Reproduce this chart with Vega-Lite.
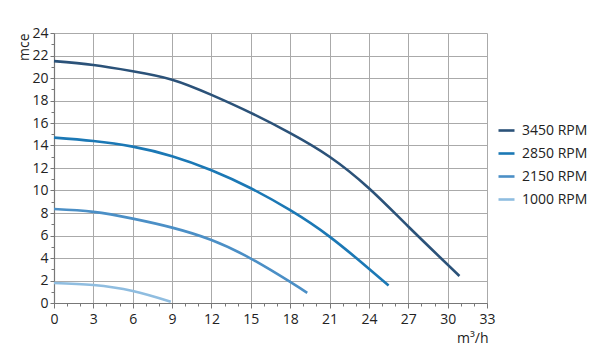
{
  "$schema": "https://vega.github.io/schema/vega-lite/v6.json",
  "width": 433,
  "height": 270,
  "autosize": "none",
  "padding": {"left": 54, "top": 33, "right": 125, "bottom": 57},
  "background": "white",
  "config": {
    "font": "Open Sans",
    "view": {"stroke": null}
  },
  "data": {
    "values": [
      {"q": 0, "h": 21.5, "s": "3450 RPM"},
      {"q": 3, "h": 21.15, "s": "3450 RPM"},
      {"q": 6, "h": 20.6, "s": "3450 RPM"},
      {"q": 9, "h": 19.85, "s": "3450 RPM"},
      {"q": 12, "h": 18.5, "s": "3450 RPM"},
      {"q": 15, "h": 16.9, "s": "3450 RPM"},
      {"q": 18, "h": 15.1, "s": "3450 RPM"},
      {"q": 21, "h": 13.0, "s": "3450 RPM"},
      {"q": 24, "h": 10.2, "s": "3450 RPM"},
      {"q": 27, "h": 6.8, "s": "3450 RPM"},
      {"q": 30.9, "h": 2.4, "s": "3450 RPM"},
      {"q": 0, "h": 14.7, "s": "2850 RPM"},
      {"q": 3, "h": 14.4, "s": "2850 RPM"},
      {"q": 6, "h": 13.9, "s": "2850 RPM"},
      {"q": 9, "h": 13.05, "s": "2850 RPM"},
      {"q": 12, "h": 11.8, "s": "2850 RPM"},
      {"q": 15, "h": 10.2, "s": "2850 RPM"},
      {"q": 18, "h": 8.25, "s": "2850 RPM"},
      {"q": 21, "h": 5.9, "s": "2850 RPM"},
      {"q": 24, "h": 3.05, "s": "2850 RPM"},
      {"q": 25.5, "h": 1.55, "s": "2850 RPM"},
      {"q": 0, "h": 8.35, "s": "2150 RPM"},
      {"q": 3, "h": 8.1, "s": "2150 RPM"},
      {"q": 6, "h": 7.5, "s": "2150 RPM"},
      {"q": 9, "h": 6.7, "s": "2150 RPM"},
      {"q": 12, "h": 5.6, "s": "2150 RPM"},
      {"q": 15, "h": 3.95, "s": "2150 RPM"},
      {"q": 18, "h": 1.87, "s": "2150 RPM"},
      {"q": 19.3, "h": 0.9, "s": "2150 RPM"},
      {"q": 0, "h": 1.78, "s": "1000 RPM"},
      {"q": 3, "h": 1.6, "s": "1000 RPM"},
      {"q": 6, "h": 1.07, "s": "1000 RPM"},
      {"q": 8.9, "h": 0.12, "s": "1000 RPM"}
    ]
  },
  "mark": {"type": "line", "interpolate": "natural", "strokeWidth": 2.6},
  "encoding": {
    "x": {
      "field": "q",
      "type": "quantitative",
      "scale": {"domain": [0, 33], "nice": false, "zero": false},
      "axis": {
        "values": [0,1,2,3,4,5,6,7,8,9,10,11,12,13,14,15,16,17,18,19,20,21,22,23,24,25,26,27,28,29,30,31,32,33],
        "labelExpr": "datum.value % 3 === 0 ? datum.label : ''",
        "labelFontSize": 14,
        "labelColor": "#222",
        "labelPadding": 4,
        "labelFlush": false,
        "domainColor": "#777",
        "domainWidth": 1.2,
        "tickColor": "#777",
        "tickSize": {"condition": {"test": "datum.value % 3 === 0", "value": 5}, "value": 3},
        "grid": true,
        "gridColor": "#aaaaaa",
        "gridWidth": 1,
        "gridOpacity": {"condition": {"test": "datum.value % 3 === 0", "value": 1}, "value": 0},
        "title": "m³/h",
        "titleFontSize": 14,
        "titleFontWeight": "normal",
        "titleColor": "#222",
        "titleAnchor": "end",
        "titleAlign": "right",
        "titleBaseline": "alphabetic",
        "titleX": 434,
        "titleY": 39
      }
    },
    "y": {
      "field": "h",
      "type": "quantitative",
      "scale": {"domain": [0, 24], "nice": false},
      "axis": {
        "values": [0,1,2,3,4,5,6,7,8,9,10,11,12,13,14,15,16,17,18,19,20,21,22,23,24],
        "labelExpr": "datum.value % 2 === 0 ? datum.label : ''",
        "labelFontSize": 14,
        "labelColor": "#222",
        "labelPadding": 2,
        "labelFlush": false,
        "domainColor": "#777",
        "domainWidth": 1.2,
        "tickColor": "#777",
        "tickSize": {"condition": {"test": "datum.value % 2 === 0", "value": 4}, "value": 3},
        "grid": true,
        "gridColor": "#aaaaaa",
        "gridWidth": 1,
        "gridOpacity": {"condition": {"test": "datum.value % 2 === 0", "value": 1}, "value": 0},
        "title": "mce",
        "titleFontSize": 14,
        "titleFontWeight": "normal",
        "titleColor": "#222",
        "titleAngle": 270,
        "titleAnchor": "end",
        "titleAlign": "right",
        "titleBaseline": "alphabetic",
        "titleX": -26,
        "titleY": 0
      }
    },
    "color": {
      "field": "s",
      "type": "nominal",
      "sort": ["3450 RPM", "2850 RPM", "2150 RPM", "1000 RPM"],
      "scale": {
        "domain": ["3450 RPM", "2850 RPM", "2150 RPM", "1000 RPM"],
        "range": ["#2b5279", "#1b78b5", "#4b8fc6", "#8fbde0"]
      },
      "legend": {
        "title": null,
        "orient": "none",
        "legendX": 443,
        "legendY": 88,
        "symbolType": "stroke",
        "symbolSize": 256,
        "symbolStrokeWidth": 2.6,
        "labelFontSize": 14,
        "labelColor": "#222",
        "labelOffset": 6,
        "rowPadding": 6,
        "labelLimit": 200
      }
    }
  }
}
